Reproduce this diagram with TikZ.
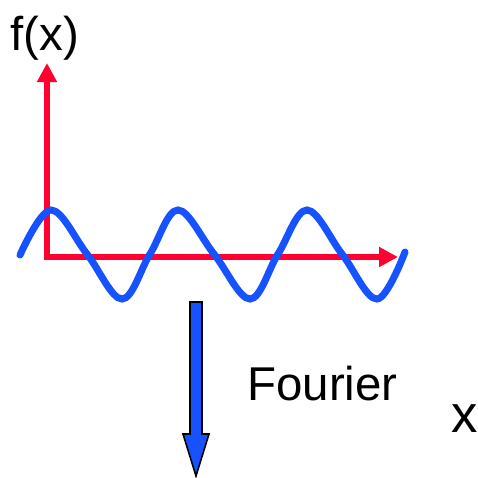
\documentclass[tikz,border=0pt]{standalone}
\usepackage{fontspec}
\setmainfont{Liberation Sans}
\usepackage{tikz}
\usetikzlibrary{arrows.meta,positioning}
\definecolor{axisred}{RGB}{255,0,48}
\definecolor{waveblue}{RGB}{22,82,255}

\begin{document}
\begin{tikzpicture}[x=0.02cm,y=-0.02cm,>={Triangle[length=0.38cm,width=0.38cm]}]
  \useasboundingbox (0,0) rectangle (478,478);
  \tikzset{label/.style={font=\fontsize{27}{30}\selectfont,inner sep=0pt,anchor=base}}
  % axes
  \coordinate (origin) at (47,257);
  \coordinate (ytip) at (47,63);
  \coordinate (xtip) at (398,257);
  \draw[<->,axisred,line width=3.2pt,line join=miter] (ytip) -- (origin) -- (xtip);
  % wave
  \draw[waveblue,line width=4pt,line cap=round] plot[smooth,tension=0.6] coordinates
    {(20,255) (51,210) (87,254) (122,299) (150,254) (178,210) (214,254)
     (250,299) (278,254) (307,210) (342,254) (377,299) (405,252)};
  % transform arrow
  \draw[fill=waveblue,draw=black,line width=0.9pt,line join=miter]
    (190,302) -- (202,302) -- (202,434) -- (209,434) -- (196,476)
    -- (183,434) -- (190,434) -- cycle;
  % labels
  \node[label] (fx) at (45,50) {f(x)};
  \node[label,anchor=base west] (fourier) at (247,400) {Fourier};
  \node[label,font=\fontsize{30}{32}\selectfont] (xlab) at (465,432) {x};
\end{tikzpicture}
\end{document}
